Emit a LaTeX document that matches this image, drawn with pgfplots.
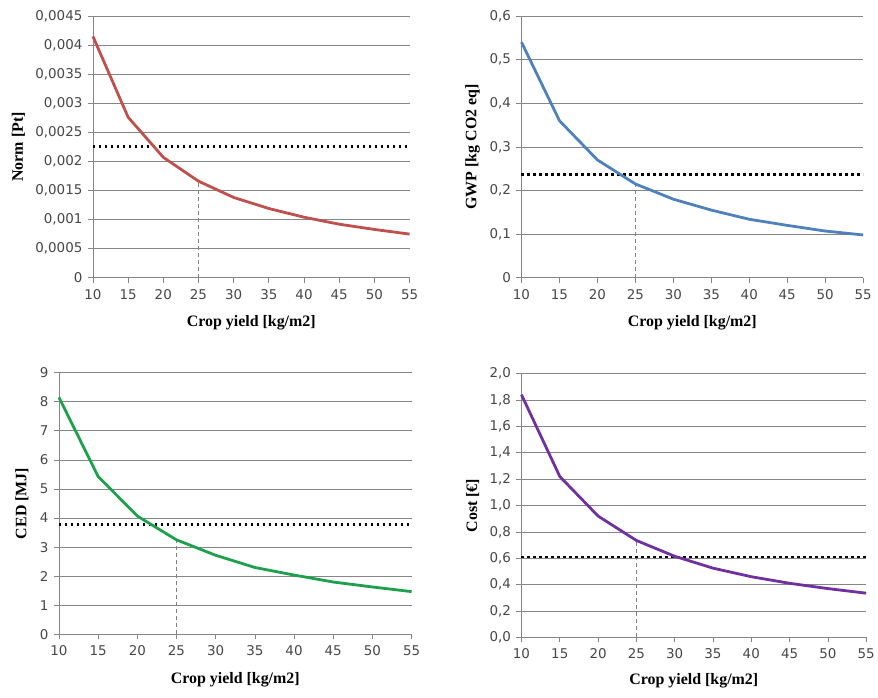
\documentclass[border=0pt]{standalone}
\usepackage{pgfplots}
\pgfplotsset{compat=1.18}
\usepackage{fontspec}
\setmainfont{Liberation Serif}
\newfontfamily\tickfont{DejaVu Sans}

\definecolor{gridgray}{RGB}{134,134,134}
\definecolor{cnorm}{RGB}{192,80,77}
\definecolor{cgwp}{RGB}{79,129,189}
\definecolor{cced}{RGB}{30,160,76}
\definecolor{ccost}{RGB}{112,48,160}

\pgfplotsset{
  panel/.style={
    scale only axis,
    xmin=10, xmax=55, xtick={10,15,20,25,30,35,40,45,50,55},
    xticklabels={10,15,20,25,30,35,40,45,50,55},
    ymin=0, scaled y ticks=false,
    axis x line*=bottom, axis y line*=left,
    axis line style={-, gridgray, line width=0.7bp},
    ymajorgrids, grid style={gridgray, line width=0.7bp},
    tick style={gridgray, line width=0.7bp}, major tick length=5bp, tick align=outside,
    tick label style={font=\fontsize{13.5}{13.5}\tickfont, text=black!72},
    xticklabel style={yshift=-3bp},
    yticklabel style={xshift=-2bp},
    label style={font=\fontsize{16}{16}\selectfont\bfseries},
    clip=false,
  },
  curve/.style={line width=2.8bp},
  limit/.style={black, line width=2.6bp, dash pattern=on 2.4bp off 3.6bp},
  mark25/.style={gray, line width=0.6bp, dash pattern=on 4bp off 3bp},
}

\begin{document}
\begin{tikzpicture}
\path (0,0) rectangle (878bp,698bp);

% Norm
\begin{axis}[panel, at={(93bp,420bp)}, anchor=south west, width=317bp, height=262bp,
  ymax=0.0045, ytick={0,0.0005,0.001,0.0015,0.002,0.0025,0.003,0.0035,0.004,0.0045},
  yticklabels={0,{0,0005},{0,001},{0,0015},{0,002},{0,0025},{0,003},{0,0035},{0,004},{0,0045}},
  xlabel={Crop yield [kg/m2]}, ylabel={Norm [Pt]},
  xlabel style={at={(axis description cs:0.5,-0.172)}, anchor=center},
  ylabel style={at={(axis description cs:-0.235,0.5)}, anchor=center}]
  \addplot[mark25] coordinates {(25,0) (25,0.00166)};
  \addplot[limit] coordinates {(10,0.00226) (55,0.00226)};
  \addplot[curve, cnorm] coordinates {(10,0.00415) (15,0.00276) (20,0.00207) (25,0.00166) (30,0.00138) (35,0.00119) (40,0.00104) (45,0.00092) (50,0.00083) (55,0.00075)};
\end{axis}

% GWP
\begin{axis}[panel, at={(522bp,420bp)}, anchor=south west, width=342bp, height=262bp,
  ymax=0.6, ytick={0,0.1,0.2,0.3,0.4,0.5,0.6},
  yticklabels={0,{0,1},{0,2},{0,3},{0,4},{0,5},{0,6}},
  xlabel={Crop yield [kg/m2]}, ylabel={GWP [kg CO2 eq]},
  xlabel style={at={(axis description cs:0.5,-0.172)}, anchor=center},
  ylabel style={at={(axis description cs:-0.143,0.5)}, anchor=center}]
  \addplot[mark25] coordinates {(25,0) (25,0.215)};
  \addplot[limit] coordinates {(10,0.237) (55,0.237)};
  \addplot[curve, cgwp] coordinates {(10,0.54) (15,0.36) (20,0.27) (25,0.215) (30,0.18) (35,0.155) (40,0.134) (45,0.12) (50,0.107) (55,0.098)};
\end{axis}

% CED
\begin{axis}[panel, at={(59bp,63bp)}, anchor=south west, width=353bp, height=262bp,
  ymax=9, ytick={0,1,2,3,4,5,6,7,8,9},
  yticklabels={0,1,2,3,4,5,6,7,8,9},
  xlabel={Crop yield [kg/m2]}, ylabel={CED [MJ]},
  xlabel style={at={(axis description cs:0.5,-0.172)}, anchor=center},
  ylabel style={at={(axis description cs:-0.105,0.5)}, anchor=center}]
  \addplot[mark25] coordinates {(25,0) (25,3.25)};
  \addplot[limit] coordinates {(10,3.77) (55,3.77)};
  \addplot[curve, cced] coordinates {(10,8.15) (15,5.43) (20,4.07) (25,3.25) (30,2.72) (35,2.3) (40,2.04) (45,1.8) (50,1.63) (55,1.47)};
\end{axis}

% Cost
\begin{axis}[panel, at={(522bp,60bp)}, anchor=south west, width=345bp, height=264bp,
  ymax=2, ytick={0,0.2,0.4,0.6,0.8,1.0,1.2,1.4,1.6,1.8,2.0},
  yticklabels={{0,0},{0,2},{0,4},{0,6},{0,8},{1,0},{1,2},{1,4},{1,6},{1,8},{2,0}},
  xlabel={Crop yield [kg/m2]}, ylabel={Cost [€]},
  xlabel style={at={(axis description cs:0.5,-0.165)}, anchor=center},
  ylabel style={at={(axis description cs:-0.142,0.5)}, anchor=center}]
  \addplot[mark25] coordinates {(25,0) (25,0.735)};
  \addplot[limit] coordinates {(10,0.61) (55,0.61)};
  \addplot[curve, ccost] coordinates {(10,1.84) (15,1.22) (20,0.92) (25,0.735) (30,0.615) (35,0.525) (40,0.46) (45,0.41) (50,0.37) (55,0.335)};
\end{axis}
\end{tikzpicture}
\end{document}
